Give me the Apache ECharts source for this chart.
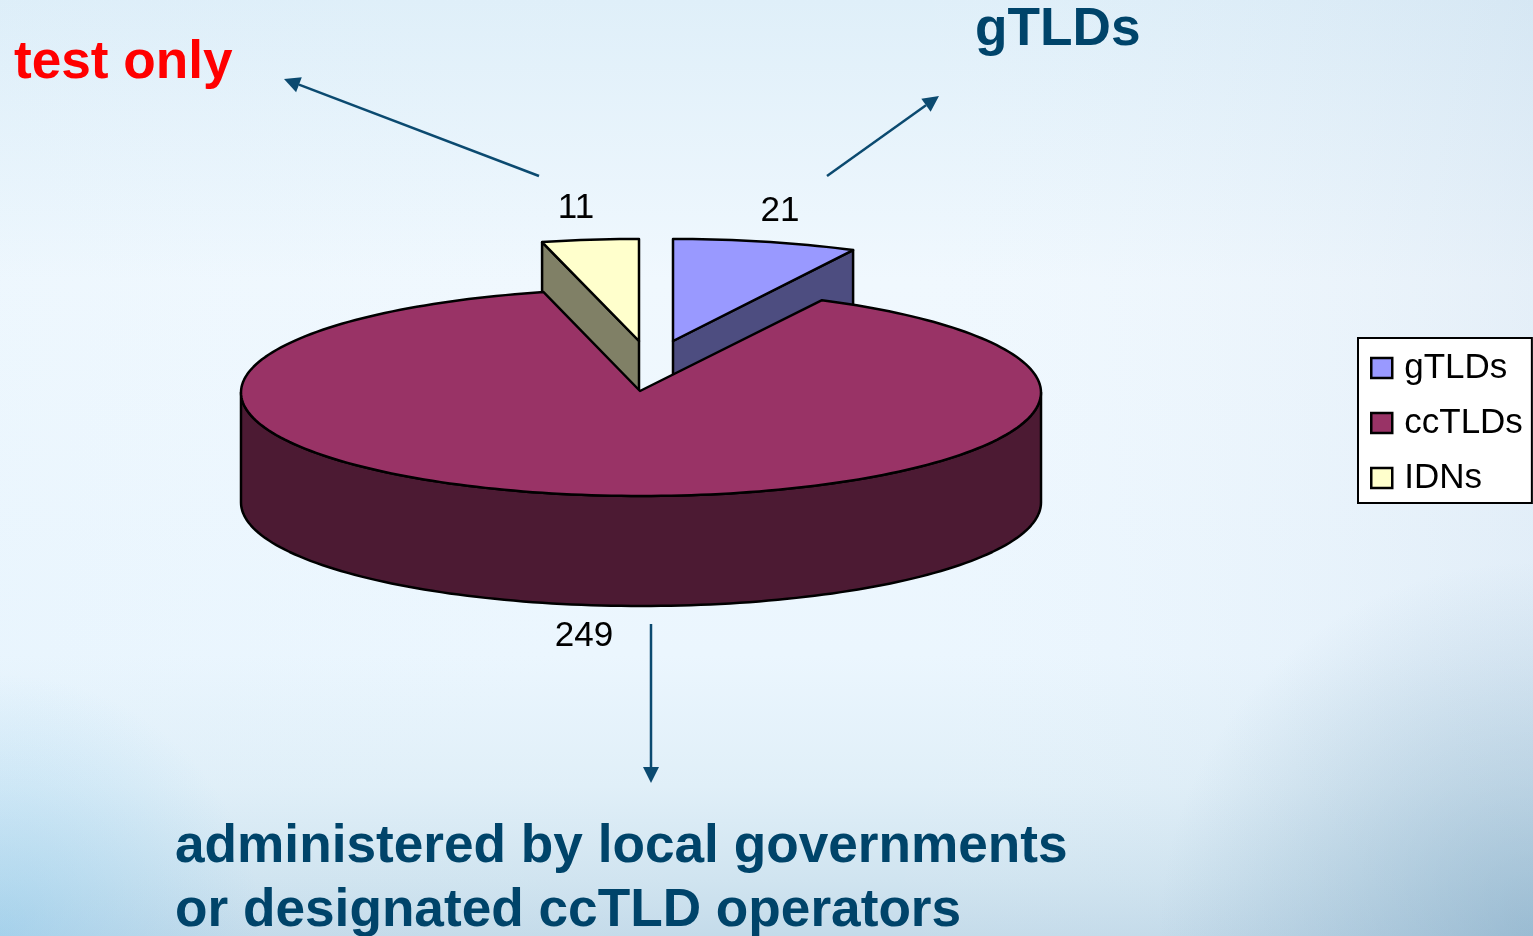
<!DOCTYPE html>
<html>
<head>
<meta charset="utf-8">
<style>html,body{margin:0;padding:0;overflow:hidden}#c{width:1533px;height:936px}</style>
<script src="https://cdn.jsdelivr.net/npm/echarts@6/dist/echarts.min.js"></script>
</head>
<body>
<div id="c"></div>
<script>
const categories = ['gTLDs', 'ccTLDs', 'IDNs'];
const values = [21, 249, 11];
const topColors = ['#9999ff', '#993366', '#ffffcc'];
const wallColors = ['#4d4d80', '#4c1a33', '#808066'];

const total = values.reduce((a, b) => a + b, 0);
const geo = { cx: 640, cy: 391, depth: 110 };
const explode = [[33, -50], [0, 0], [-1, -50]];
const ellipse = [
  { dx: 0, dy: 0, rx: 398, ry: 102 },
  { dx: 1, dy: 1.5, rx: 400, ry: 103.5 },
  { dx: 0, dy: 0, rx: 398, ry: 102 }
];
const labelPos = [[780, 211], [584, 636], [576, 208]];
const FONT = '"Liberation Sans", Arial, sans-serif';
const INK = '#00446a';

function pt(cx, cy, a, rx, ry) {
  return [cx + rx * Math.sin(a), cy - ry * Math.cos(a)];
}
function arc(cx, cy, a0, a1, rx, ry) {
  const n = Math.max(2, Math.ceil(Math.abs(a1 - a0) * 40));
  const p = [];
  for (let i = 0; i <= n; i++) p.push(pt(cx, cy, a0 + (a1 - a0) * i / n, rx, ry));
  return p;
}
function renderSlice(idx) {
  return function () {
    let before = 0;
    for (let i = 0; i < idx; i++) before += values[i];
    const a0 = before / total * Math.PI * 2;
    const a1 = (before + values[idx]) / total * Math.PI * 2;
    const ax = geo.cx + explode[idx][0], ay = geo.cy + explode[idx][1];
    const e = ellipse[idx];
    const cx = ax + e.dx, cy = ay + e.dy, rx = e.rx, ry = e.ry;
    const stroke = { stroke: '#000', lineWidth: 2.5, lineJoin: 'round' };
    const children = [];
    const d = geo.depth;
    const poly = (points, fill) => ({
      type: 'polygon', shape: { points }, style: Object.assign({ fill }, stroke)
    });
    const f0 = Math.max(a0, Math.PI / 2), f1 = Math.min(a1, Math.PI * 1.5);
    if (f1 > f0) {
      const top = arc(cx, cy, f0, f1, rx, ry);
      const bot = arc(cx, cy + d, f1, f0, rx, ry);
      children.push(poly(top.concat(bot), wallColors[idx]));
    }
    const cut = (a) => {
      const p = pt(cx, cy, a, rx, ry);
      return [[ax, ay], p, [p[0], p[1] + d], [ax, ay + d]];
    };
    if (idx === 0) children.push(poly(cut(a1), wallColors[idx]));
    if (idx === 2) children.push(poly(cut(a0), wallColors[idx]));
    children.push(poly([[ax, ay]].concat(arc(cx, cy, a0, a1, rx, ry)), topColors[idx]));
    children.push({
      type: 'text',
      style: {
        text: String(values[idx]), x: labelPos[idx][0], y: labelPos[idx][1],
        align: 'center', verticalAlign: 'middle', fill: '#000',
        font: '35px ' + FONT
      }
    });
    return { type: 'group', children };
  };
}

const series = [0, 2, 1].map(i => ({
  type: 'custom',
  name: categories[i],
  coordinateSystem: 'none',
  silent: true,
  itemStyle: { color: topColors[i] },
  data: [[values[i]]],
  renderItem: renderSlice(i)
}));

function arrow(x0, y0, x1, y1) {
  const L = 16, W = 8, dx = x1 - x0, dy = y1 - y0, n = Math.hypot(dx, dy);
  const ux = dx / n, uy = dy / n;
  const bx = x1 - ux * L, by = y1 - uy * L;
  return [
    { type: 'line', shape: { x1: x0, y1: y0, x2: bx, y2: by }, style: { stroke: '#0b4a70', lineWidth: 2.5 } },
    { type: 'polygon', shape: { points: [[x1, y1], [bx - uy * W, by + ux * W], [bx + uy * W, by - ux * W]] }, style: { fill: '#0b4a70' } }
  ];
}
function note(text, x, y, fill) {
  return { type: 'text', style: { text, x, y, fill, font: 'bold 53.2px ' + FONT, verticalAlign: 'bottom' } };
}
function wash(gradient) {
  return { type: 'rect', z: -10, silent: true, shape: { x: 0, y: 0, width: 1533, height: 936 }, style: { fill: gradient } };
}

const chart = echarts.init(document.getElementById('c'));
chart.setOption({
  animation: false,
  backgroundColor: new echarts.graphic.LinearGradient(0, 0, 0, 1, [
    { offset: 0, color: '#dfeff9' },
    { offset: 0.3, color: '#f0f8fe' },
    { offset: 0.7, color: '#ebf6fe' },
    { offset: 0.84, color: '#e0eff8' },
    { offset: 0.94, color: '#d0e4f0' },
    { offset: 1, color: '#c4dbea' }
  ]),
  legend: {
    orient: 'vertical',
    left: 1358, top: 338,
    padding: [10, 9, 5, 12],
    itemWidth: 21, itemHeight: 20, itemGap: 15,
    backgroundColor: '#fff', borderColor: '#000', borderWidth: 2, borderRadius: 0,
    textStyle: { color: '#000', fontSize: 35, fontFamily: FONT, padding: [8, 0, 0, 7], lineHeight: 32 },
    selectedMode: false,
    data: categories.map((name, i) => ({
      name, icon: 'rect',
      itemStyle: { color: topColors[i], borderColor: '#000', borderWidth: 2.5 }
    }))
  },
  graphic: { elements: [
    wash(new echarts.graphic.LinearGradient(0, 0, 1, 0, [
      { offset: 0, color: 'rgba(190,225,245,0.05)' },
      { offset: 0.55, color: 'rgba(255,255,255,0)' },
      { offset: 1, color: 'rgba(150,175,205,0.12)' }
    ])),
    wash(new echarts.graphic.RadialGradient(1, 1, 0.4, [
      { offset: 0, color: 'rgba(110,155,185,0.45)' },
      { offset: 1, color: 'rgba(110,155,185,0)' }
    ])),
    wash(new echarts.graphic.RadialGradient(0, 1, 0.28, [
      { offset: 0, color: 'rgba(110,190,235,0.35)' },
      { offset: 1, color: 'rgba(110,190,235,0)' }
    ])),
    ...arrow(539, 176, 284, 79),
    ...arrow(827, 176, 939, 96),
    ...arrow(651, 624, 651, 783),
    note('test only', 14, 90, '#ff0000'),
    note('gTLDs', 975, 57, INK),
    note('administered by local governments', 175, 874, INK),
    note('or designated ccTLD operators', 175, 938, INK)
  ] },
  series
});
</script>
</body>
</html>
